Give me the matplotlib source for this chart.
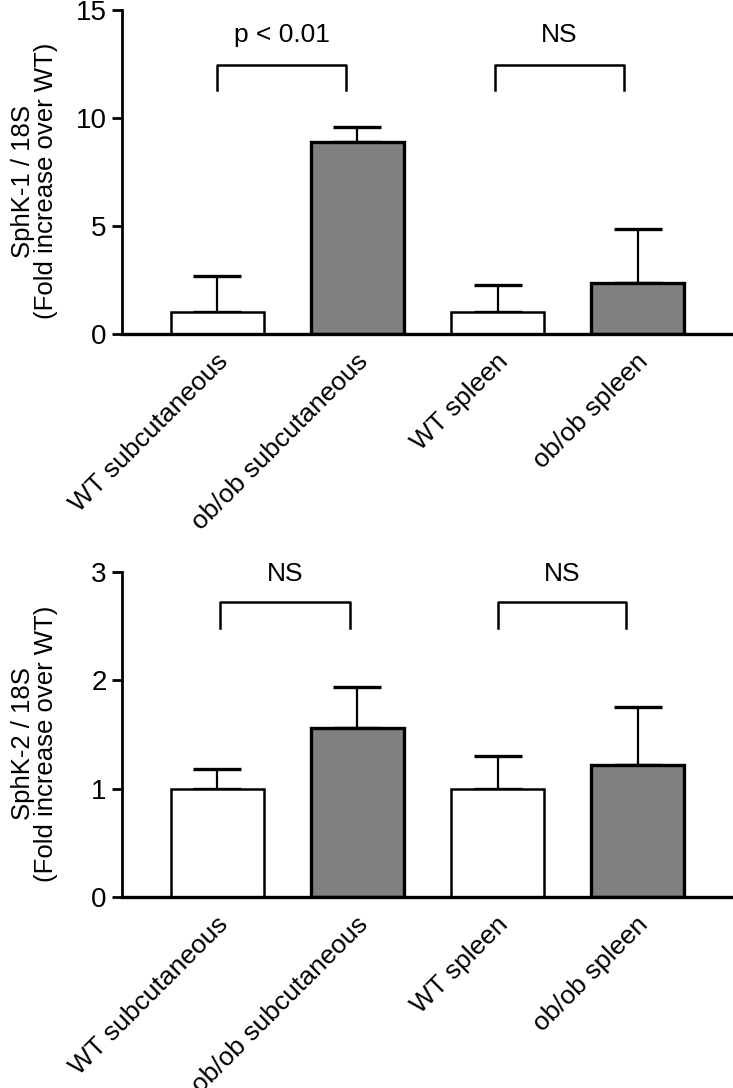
import matplotlib
matplotlib.use("Agg")
import matplotlib.pyplot as plt
from matplotlib import font_manager

names = {f.name for f in font_manager.fontManager.ttflist}
MAIN = "Liberation Sans" if "Liberation Sans" in names else "DejaVu Sans"
NARROW = "Liberation Sans Narrow" if "Liberation Sans Narrow" in names else MAIN
plt.rcParams["font.family"] = [MAIN, "DejaVu Sans"]

categories = ["WT subcutaneous", "ob/ob subcutaneous", "WT spleen", "ob/ob spleen"]
bar_colors = ["white", "#808080", "white", "#808080"]

sphk1_mean = [1.0, 8.9, 1.0, 2.35]
sphk1_err = [1.7, 0.7, 1.25, 2.5]
sphk2_mean = [1.0, 1.56, 1.0, 1.22]
sphk2_err = [0.18, 0.38, 0.30, 0.53]

panels = [
    dict(mean=sphk1_mean, err=sphk1_err, ylim=15, yticks=[0, 5, 10, 15],
         ylabel="SphK-1 / 18S\n(Fold increase over WT)",
         brackets=[(0, 0.92, "p < 0.01"), (1.98, 2.9, "NS")],
         br_top=12.45, br_bot=11.3, txt_y=13.85),
    dict(mean=sphk2_mean, err=sphk2_err, ylim=3, yticks=[0, 1, 2, 3],
         ylabel="SphK-2 / 18S\n(Fold increase over WT)",
         brackets=[(0.02, 0.95, "NS"), (2.0, 2.92, "NS")],
         br_top=2.72, br_bot=2.48, txt_y=2.98),
]

fig = plt.figure(figsize=(7.33, 10.88), dpi=100)
axes_rects = [[0.1664, 0.693, 0.8336, 0.2978], [0.1664, 0.1756, 0.8336, 0.2987]]

x = list(range(len(categories)))
for rect, p in zip(axes_rects, panels):
    ax = fig.add_axes(rect)
    for i in x:
        lw = 2.4 if bar_colors[i] != "white" else 1.8
        ax.bar(i, p["mean"][i], width=0.66, color=bar_colors[i],
               edgecolor="black", linewidth=lw, zorder=2)
    ax.errorbar(x, p["mean"], yerr=[[0] * 4, p["err"]], fmt="none",
                ecolor="black", elinewidth=1.6, capsize=17, capthick=2.4, zorder=1)
    ax.set_xlim(-0.68, 3.68)
    ax.set_ylim(0, p["ylim"])
    ax.set_yticks(p["yticks"])
    ax.set_yticklabels([str(t) for t in p["yticks"]], fontsize=20, family=[NARROW, "DejaVu Sans"])
    ax.tick_params(axis="y", direction="out", length=7, width=2, pad=4)
    ax.set_xticks([])
    for s in ["top", "right"]:
        ax.spines[s].set_visible(False)
    ax.spines["left"].set_linewidth(2)
    ax.spines["bottom"].set_linewidth(2.4)
    ax.set_ylabel(p["ylabel"], fontsize=18.5, linespacing=0.95)
    ax.yaxis.set_label_coords(-0.104, 0.472)
    for (x0, x1, label) in p["brackets"]:
        ax.plot([x0, x0, x1, x1], [p["br_bot"], p["br_top"], p["br_top"], p["br_bot"]],
                color="black", lw=1.8, clip_on=False)
        ax.text((x0 + x1) / 2, p["txt_y"], label, ha="center", va="center",
                fontsize=19, family=[NARROW, "DejaVu Sans"])
    for i, c in enumerate(categories):
        ax.annotate(c, xy=(i, 0), xycoords=("data", "axes fraction"),
                    xytext=(5, -17), textcoords="offset points",
                    rotation=45, rotation_mode="anchor", ha="right", va="center",
                    fontsize=19)

fig.savefig("out.png", dpi=100)
